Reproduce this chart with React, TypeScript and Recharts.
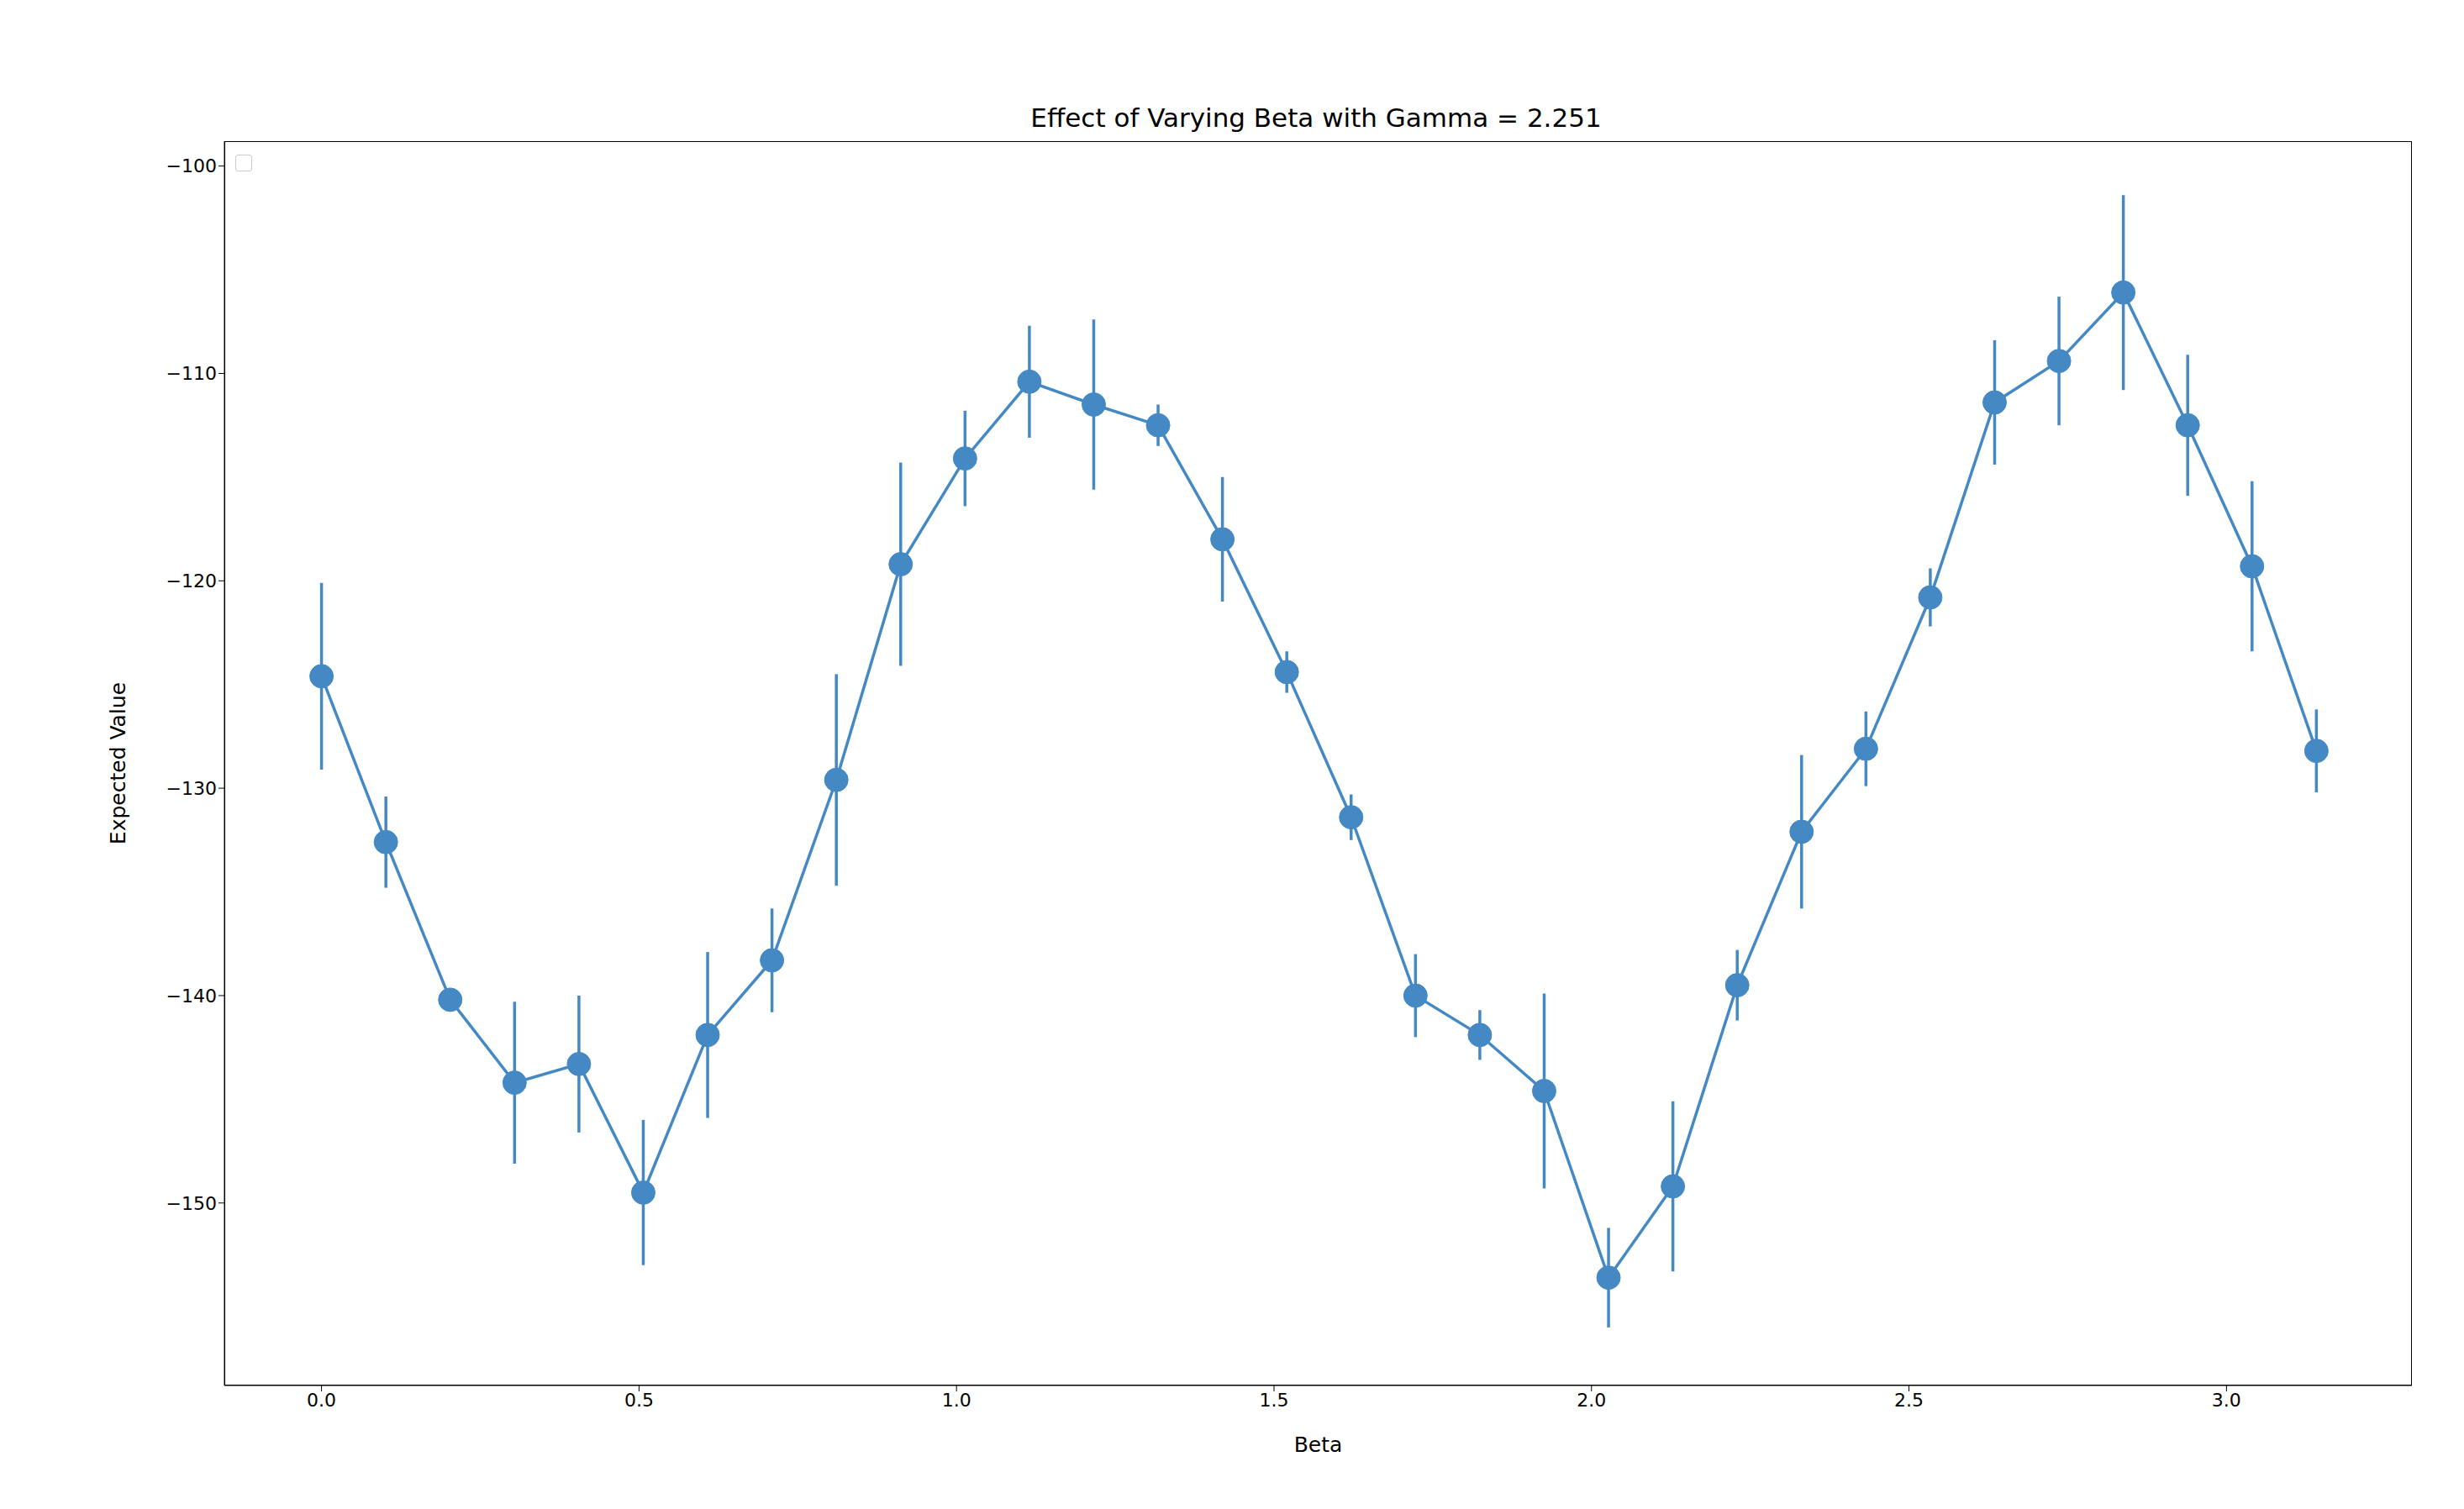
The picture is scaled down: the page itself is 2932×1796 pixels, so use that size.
import { ComposedChart, Line, ErrorBar, XAxis, YAxis } from 'recharts';

const N = 32;
const STEP = Math.PI / (N - 1);

const expectedValues = [
  -124.6, -132.6, -140.2, -144.2, -143.3, -149.5, -141.9, -138.3,
  -129.6, -119.2, -114.1, -110.4, -111.5, -112.5, -118.0, -124.4,
  -131.4, -140.0, -141.9, -144.6, -153.6, -149.2, -139.5, -132.1,
  -128.1, -120.8, -111.4, -109.4, -106.1, -112.5, -119.3, -128.2,
];

const errors = [
  4.5, 2.2, 0.5, 3.9, 3.3, 3.5, 4.0, 2.5,
  5.1, 4.9, 2.3, 2.7, 4.1, 1.0, 3.0, 1.0,
  1.1, 2.0, 1.2, 4.7, 2.4, 4.1, 1.7, 3.7,
  1.8, 1.4, 3.0, 3.1, 4.7, 3.4, 4.1, 2.0,
];

const xTicks = [0, 0.5, 1.0, 1.5, 2.0, 2.5, 3.0];
const yTicks = [-150, -140, -130, -120, -110, -100];

const data = expectedValues.map((v, i) => ({ beta: i * STEP, value: v, err: errors[i] }));

const COLOR = '#4589c4';
const FONT = '"DejaVu Sans", sans-serif';
const tickStyle = { fontSize: 22, fill: '#000', fontFamily: FONT };

export default function App() {
  return (
    <div style={{ position: 'relative', width: 2916, height: 1780, background: '#fff', fontFamily: FONT }}>
      <div style={{ position: 'absolute', left: 0, width: 3116, top: 114, textAlign: 'center', fontSize: 31 }}>
        Effect of Varying Beta with Gamma = 2.251
      </div>
      <div
        style={{
          position: 'absolute', left: 272, top: 176, width: 20, height: 20,
          border: '1.5px solid #ccc', borderRadius: 3, boxSizing: 'border-box',
        }}
      />
      <div
        style={{
          position: 'absolute', left: 259, top: 160, width: 2603, height: 1481,
          border: '1.5px solid #000', boxSizing: 'border-box', pointerEvents: 'none',
        }}
      />
      <ComposedChart
        width={2916}
        height={1780}
        data={data}
        margin={{ top: 160, right: 54, bottom: 60, left: 100 }}
      >
        <XAxis
          dataKey="beta"
          type="number"
          domain={[-0.153, 3.292]}
          ticks={xTicks}
          tickFormatter={(v: number) => v.toFixed(1)}
          allowDataOverflow
          stroke="#000"
          tick={tickStyle}
          tickSize={7}
          height={79}
          label={{ value: 'Beta', position: 'insideBottom', offset: 0, fontSize: 25, fill: '#000', fontFamily: FONT }}
        />
        <YAxis
          type="number"
          domain={[-158.8, -98.8]}
          ticks={yTicks}
          tickFormatter={(v: number) => String(v).replace('-', '\u2212')}
          allowDataOverflow
          stroke="#000"
          tick={tickStyle}
          tickSize={7}
          width={159}
          label={{ value: 'Expected Value', angle: -90, position: 'insideLeft', offset: 32, fontSize: 25, fill: '#000', fontFamily: FONT, style: { textAnchor: 'middle' } }}
        />
        <Line
          dataKey="value"
          stroke={COLOR}
          strokeWidth={3.5}
          dot={{ r: 14, fill: COLOR, stroke: COLOR, strokeWidth: 1 }}
          isAnimationActive={false}
        >
          <ErrorBar dataKey="err" direction="y" width={0} stroke={COLOR} strokeWidth={3.5} />
        </Line>
      </ComposedChart>
    </div>
  );
}
